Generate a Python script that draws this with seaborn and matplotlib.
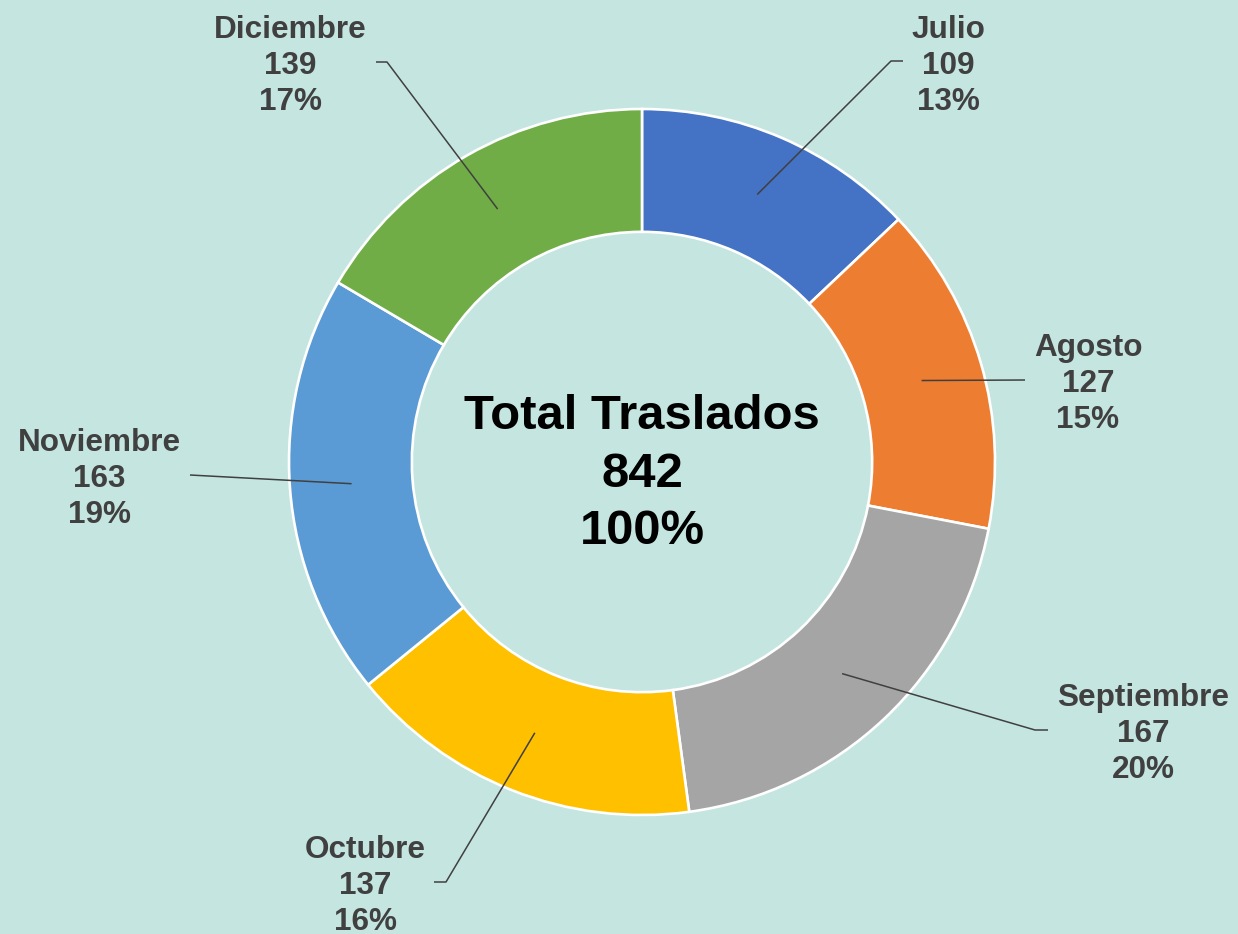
import numpy as np
import matplotlib
matplotlib.use("Agg")
import matplotlib.pyplot as plt
import seaborn as sns

# data
months = ["Julio", "Agosto", "Septiembre", "Octubre", "Noviembre", "Diciembre"]
traslados = [109, 127, 167, 137, 163, 139]
month_colors = ["#4472C4", "#ED7D31", "#A5A5A5", "#FFC000", "#5B9BD5", "#70AD47"]

# layout in pixels (label centre, elbow, line end)
W, H = 1238, 934
CX, CY, R = 642, 462, 353
label_xy = [(948, 66), (1088, 384), (1143, 734), (365, 886), (99, 479), (290, 66)]
elbow_xy = [(891, 61), (1025, 380), (1035, 730), (446, 882), (190, 475), (387, 62)]
end_xy = [(903, 61), (1025, 380), (1048, 730), (434, 882), (190, 475), (376, 62)]

BG = "#C5E5E0"
TXT = "#404040"


def to_data(p):
    return (p[0] - CX) / R, (CY - p[1]) / R


sns.set_style("white")
plt.rcParams["font.family"] = ["Liberation Sans", "DejaVu Sans"]

fig = plt.figure(figsize=(W / 100, H / 100), dpi=100)
fig.patch.set_facecolor(BG)
ax = fig.add_axes([0, 0, 1, 1])
ax.set_facecolor(BG)

ax.pie(traslados, colors=sns.color_palette(month_colors), startangle=90,
       counterclock=False, radius=1,
       wedgeprops=dict(width=0.348, edgecolor="white", linewidth=1.9))

total = sum(traslados)
cum = np.cumsum([0] + traslados)
for i, (m, v) in enumerate(zip(months, traslados)):
    mid = (cum[i] + v / 2) / total * 2 * np.pi
    sx, sy = 0.825 * np.sin(mid), 0.825 * np.cos(mid)
    ex, ey = to_data(elbow_xy[i])
    fx, fy = to_data(end_xy[i])
    ax.plot([sx, ex, fx], [sy, ey, fy], color=TXT, lw=1.1, solid_capstyle="butt")
    tx, ty = to_data(label_xy[i])
    pct = round(v / total * 100)
    ax.text(tx, ty, f"{m}\n{v}\n{pct}%", ha="center", va="center",
            fontsize=22.7, fontweight="bold", color=TXT, linespacing=1.27)

ax.text(0, to_data((0, 474))[1], f"Total Traslados\n{total}\n100%", ha="center",
        va="center", fontsize=35.3, fontweight="bold", color="black", linespacing=1.35)

ax.set_xlim(-CX / R, (W - CX) / R)
ax.set_ylim(-(H - CY) / R, CY / R)
ax.set_aspect("equal")
ax.axis("off")

fig.savefig("out.png", dpi=100, facecolor=BG)
